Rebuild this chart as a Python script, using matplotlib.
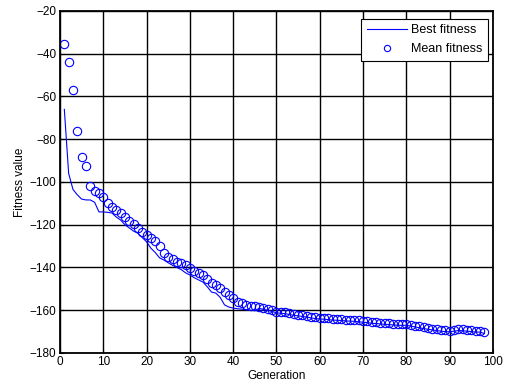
import numpy as np
import matplotlib.pyplot as plt

plt.rcParams['font.family'] = ['Liberation Sans', 'DejaVu Sans']

gen = np.arange(1, 99)

mean_fit = [-35.5, -44, -57, -76, -88.3, -92.5, -101.9, -104, -105, -107,
            -109.8, -111.7, -113, -114.5, -116.4, -118.2, -119.6, -121.5, -123.4, -124.8,
            -126, -127.5, -130, -133, -135, -136, -137.4, -138, -138.8, -140.2,
            -141.6, -142.6, -143.5, -145.5, -147.3, -148.2, -149.6, -151.5, -152.9, -154.3,
            -156, -156.6, -157.5, -158, -158.2, -158.5, -159, -159.4, -160, -160.6,
            -160.8, -161, -161.4, -161.8, -162, -162.3, -162.6, -163, -163.3, -163.5,
            -163.6, -163.8, -164, -164.1, -164.2, -164.4, -164.5, -164.6, -164.8, -165,
            -165.2, -165.5, -165.6, -165.8, -166, -166.1, -166.3, -166.4, -166.5, -166.4,
            -166.8, -167.2, -167.6, -168, -168.3, -168.6, -168.9, -169.2, -169.4, -169.5,
            -169.2, -168.9, -169, -169.2, -169.4, -169.6, -169.6, -170.3]

best_fit = [-66, -96, -103.5, -106, -108, -108.4, -108.4, -109.5, -114, -114,
            -114.2, -114.5, -116.4, -117.8, -120, -121.5, -123, -124, -126, -128,
            -131, -133, -135.5, -136.5, -137.8, -139, -140, -141, -142.5, -143.5,
            -144.8, -145.8, -146.8, -149, -151.5, -152, -154, -157.5, -158.5, -159,
            -159.3, -159.5, -159.8, -160, -160.2, -159.1, -159.6, -160, -160.6, -161.2,
            -161.4, -161.6, -162, -162.4, -162.6, -162.9, -163.2, -163.6, -163.9, -164.1,
            -164.2, -164.4, -164.6, -164.7, -164.8, -165, -165.1, -165.2, -165.4, -165.6,
            -165.8, -166.1, -166.2, -166.4, -166.6, -166.7, -166.9, -167, -167.1, -167,
            -167.4, -167.8, -168.2, -168.6, -168.9, -169.2, -169.5, -169.8, -170, -170.1,
            -169.8, -169.5, -169.6, -169.8, -170, -170.2, -170.2, -170.9]

fig = plt.figure(figsize=(5.05, 3.9), dpi=100)
ax = fig.add_axes([0.1188, 0.0949, 0.8574, 0.8769])

ax.plot(gen, best_fit, color='#0000ff', lw=0.8, label='Best fitness')
ax.plot(gen, mean_fit, 'o', mfc='none', mec='#0000ff', ms=6, mew=0.8,
        label='Mean fitness')

ax.set_xlim(0, 100)
ax.set_ylim(-180, -20)
ax.set_xticks(np.arange(0, 101, 10))
ax.set_yticks(np.arange(-180, -19, 20))
ax.grid(True, color='black', lw=1, ls='-')
ax.set_axisbelow(True)
ax.tick_params(direction='in', length=3, labelsize=8.5, color='black', pad=2.5)
for s in ax.spines.values():
    s.set_linewidth(1.3)

ax.set_xlabel('Generation', fontsize=8.5, labelpad=1)
ax.set_ylabel('Fitness value', fontsize=8.5, labelpad=3)

leg = ax.legend(loc='upper right', bbox_to_anchor=(0.9885, 0.977),
                fontsize=9, fancybox=False, framealpha=1,
                edgecolor='black', handlelength=3.2, handletextpad=0.35,
                borderaxespad=0, borderpad=0.45, labelspacing=0.55,
                markerscale=0.75)
leg.get_frame().set_linewidth(0.8)

fig.savefig('out.png', format='png')
